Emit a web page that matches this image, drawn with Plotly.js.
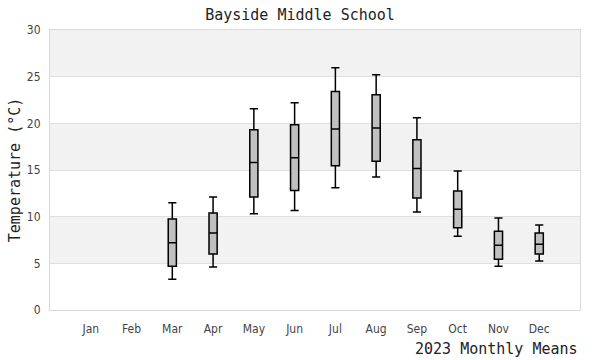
<!DOCTYPE html>
<html>
<head>
<meta charset="utf-8">
<script src="https://cdn.plot.ly/plotly-3.0.1.min.js"></script>
<style>html,body{margin:0;padding:0;background:#fff;}#chart{width:600px;height:360px;}</style>
</head>
<body>
<div id="chart"></div>
<script>
const months = ["Jan","Feb","Mar","Apr","May","Jun","Jul","Aug","Sep","Oct","Nov","Dec"];
const lowerFence = [null,null,3.3,4.6,10.3,10.65,13.1,14.25,10.5,7.9,4.7,5.25];
const q1        = [null,null,4.7,6.0,12.1,12.8,15.45,15.95,12.0,8.8,5.45,6.0];
const median    = [null,null,7.2,8.25,15.8,16.3,19.4,19.5,15.15,10.8,6.95,7.05];
const q3        = [null,null,9.75,10.4,19.3,19.85,23.4,23.05,18.25,12.75,8.45,8.25];
const upperFence= [null,null,11.5,12.1,21.55,22.2,25.95,25.2,20.6,14.9,9.85,9.1];
const yTicks = [0,5,10,15,20,25,30];

const idx = months.map((m,i)=>i).filter(i=>median[i]!==null);
const pick = a => idx.map(i=>a[i]);

const tickFont = {family: 'Liberation Sans Narrow, DejaVu Sans Condensed, DejaVu Sans, sans-serif', size: 12, color: '#444'};
const monoFont = 'DejaVu Sans Mono, monospace';

const trace = {
  type: 'box',
  x: pick(months),
  lowerfence: pick(lowerFence),
  q1: pick(q1),
  median: pick(median),
  q3: pick(q3),
  upperfence: pick(upperFence),
  fillcolor: '#c0c0c0',
  line: {color: '#000', width: 1.5},
  whiskerwidth: 1,
  width: 0.2,
  boxpoints: false,
  hoverinfo: 'skip',
  showlegend: false
};

const shapes = [];
for (let k = 0; k + 1 < yTicks.length; k++) {
  if (k % 2 === 1) {
    shapes.push({type:'rect', xref:'paper', yref:'y', x0:0, x1:1, y0:yTicks[k], y1:yTicks[k+1],
      fillcolor:'#f2f2f2', line:{width:0}, layer:'below'});
  }
}

const layout = {
  width: 600, height: 360,
  margin: {l: 50, r: 20, t: 30, b: 50},
  paper_bgcolor: '#fff', plot_bgcolor: '#fff',
  font: tickFont,
  title: {text: 'Bayside Middle School', x: 0.5, xref: 'container', y: 0.975, yanchor: 'top',
          font: {family: monoFont, size: 15, color: '#222'}},
  xaxis: {
    type: 'category', categoryorder: 'array', categoryarray: months,
    tickvals: months, ticktext: months,
    range: [-1, 12],
    showgrid: false, zeroline: false,
    showline: true, mirror: true, linecolor: '#d9d9d9', linewidth: 1,
    ticks: 'outside', ticklen: 8, tickcolor: 'rgba(0,0,0,0)',
    tickfont: tickFont,
    fixedrange: true
  },
  yaxis: {
    range: [0, 30], tickvals: yTicks,
    showgrid: true, gridcolor: '#e0e0e0', gridwidth: 1, zeroline: false,
    showline: true, mirror: true, linecolor: '#d9d9d9', linewidth: 1,
    ticks: 'outside', ticklen: 6, tickcolor: 'rgba(0,0,0,0)',
    tickfont: tickFont,
    title: {text: 'Temperature (°C)', standoff: 2,
            font: {family: monoFont, size: 15, color: '#222'}},
    fixedrange: true
  },
  shapes: shapes,
  annotations: [{
    text: '2023 Monthly Means', xref: 'paper', yref: 'paper', x: 1, y: 0,
    xanchor: 'right', yanchor: 'top', yshift: -28, showarrow: false,
    font: {family: monoFont, size: 15, color: '#222'}
  }]
};

Plotly.newPlot('chart', [trace], layout, {displayModeBar: false, staticPlot: true});
</script>
</body>
</html>
